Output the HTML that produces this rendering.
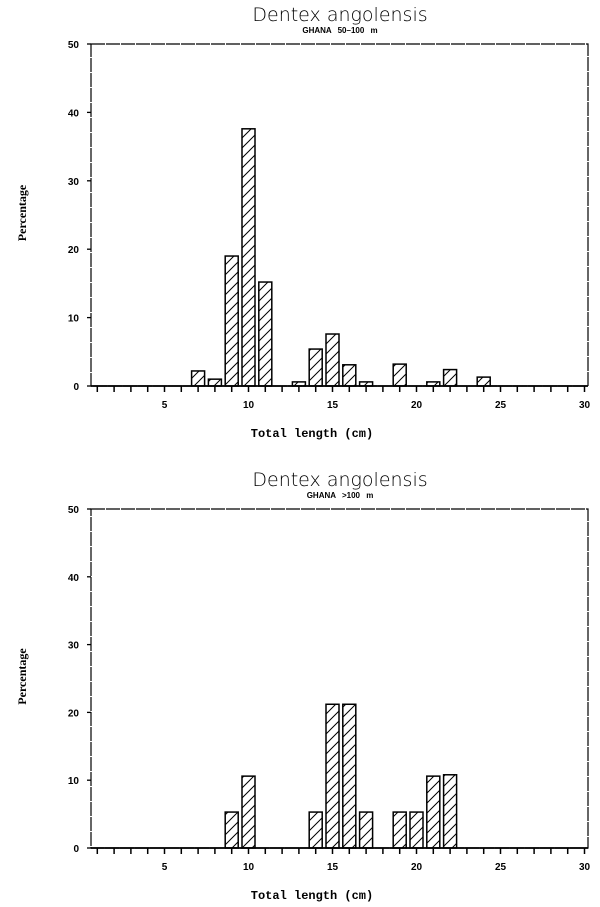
<!DOCTYPE html>
<html><head><style>body{margin:0;background:#fff}</style></head><body>
<svg width="600" height="902" viewBox="0 0 600 902" xmlns="http://www.w3.org/2000/svg">
<defs>
<pattern id="h" patternUnits="userSpaceOnUse" width="10" height="10">
<path d="M-1,11 L11,-1 M-2,2 L2,-2 M8,12 L12,8" stroke="#000" stroke-width="1"/>
</pattern>
</defs>
<g id="c1"></g>
<g id="c2"></g>
</svg>
<script>
const NS="http://www.w3.org/2000/svg";
function el(p,t,a,txt){const e=document.createElementNS(NS,t);for(const k in a)e.setAttribute(k,a[k]);if(txt)e.textContent=txt;p.appendChild(e);return e;}
function chart(g,top,base,sub,data){
  const L=91,R=588,u=(base-top)/50,X=v=>164.5+(v-5)*16.8;
  el(g,"text",{x:340,y:top-23,"font-family":"DejaVu Sans, Liberation Sans, sans-serif","font-size":19,"font-weight":300,"text-anchor":"middle"},"Dentex angolensis");
  el(g,"text",{x:340,y:top-11,"font-family":"Liberation Sans, sans-serif","font-size":8,"font-weight":"bold","text-anchor":"middle","word-spacing":4},sub);
  el(g,"rect",{x:L,y:top,width:R-L,height:base-top,fill:"none",stroke:"#000","stroke-width":1.2,"stroke-dasharray":"14 1"});
  for(let i=0;i<=5;i++){const y=base-i*10*u;
    el(g,"line",{x1:L-4,y1:y,x2:L,y2:y,stroke:"#000","stroke-width":1.3});
    el(g,"text",{x:L-12,y:y+4,"font-family":"Liberation Sans, sans-serif","font-size":10,"font-weight":"bold","text-anchor":"end"},String(i*10));}
  for(let v=1;v<=30;v++){el(g,"line",{x1:X(v),y1:base,x2:X(v),y2:base+6,stroke:"#000","stroke-width":1.5});
    if(v%5==0)el(g,"text",{x:X(v),y:base+22,"font-family":"Liberation Sans, sans-serif","font-size":10,"font-weight":"bold","text-anchor":"middle"},String(v));}
  for(const [v,p] of data){const h=p*u;
    el(g,"rect",{x:X(v)-6.5,y:base-h,width:13,height:h,fill:"url(#h)",stroke:"#000","stroke-width":1.5});}
  el(g,"line",{x1:L,y1:base,x2:R,y2:base,stroke:"#000","stroke-width":1.8});
  el(g,"text",{x:312,y:base+51,"font-family":"Liberation Mono, monospace","font-size":12,"font-weight":"bold","text-anchor":"middle"},"Total length (cm)");
  const cy=(top+base)/2-2;
  el(g,"text",{x:0,y:0,transform:`translate(26,${cy}) rotate(-90)`,"font-family":"Liberation Serif, serif","font-size":12,"font-weight":"bold","text-anchor":"middle"},"Percentage");
}
chart(document.getElementById("c1"),44,386,"GHANA 50\u2013100 m",[[7,2.2],[8,1],[9,19],[10,37.6],[11,15.2],[13,0.6],[14,5.4],[15,7.6],[16,3.1],[17,0.6],[19,3.2],[21,0.6],[22,2.4],[24,1.3]]);
chart(document.getElementById("c2"),509,848,"GHANA >100 m",[[9,5.3],[10,10.6],[14,5.3],[15,21.2],[16,21.2],[17,5.3],[19,5.3],[20,5.3],[21,10.6],[22,10.8]]);
</script>
</body></html>
